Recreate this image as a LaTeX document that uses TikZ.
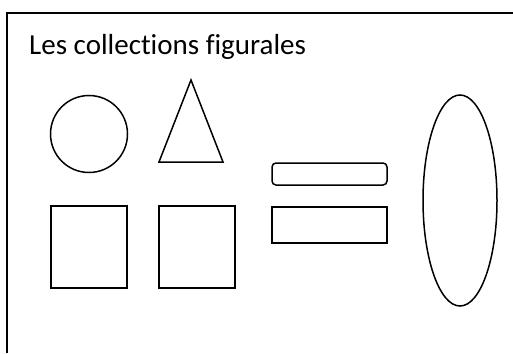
\documentclass[tikz,border=0pt]{standalone}
\usepackage{fontspec}
\setmainfont{Carlito}[Ligatures=NoCommon]
\usetikzlibrary{shapes.geometric}
\tikzset{figure/.style={draw, line width=1.5pt, inner sep=0pt}, frameline/.style={line width=2.2pt}}

\begin{document}
\begin{tikzpicture}[x=1pt, y=-1pt]
	\useasboundingbox (0,0) rectangle (513,353);
	% frame of the slide, only top and left edges shown
	\coordinate (corner) at (7,13);
	\coordinate (right end) at (513,13);
	\coordinate (bottom end) at (7,353);
	\draw[frameline] (right end) -- (corner) -- (bottom end);
	\node[anchor=base west, inner sep=0pt, font=\fontsize{29}{34}\selectfont] (title) at (29,55) {Les collections figurales};
	% the figures
	\node[figure, circle, minimum size=77pt] (rond) at (89,134) {};
	\coordinate (apex) at (191,80);
	\coordinate (base left) at (159,162);
	\coordinate (base right) at (223,162);
	\draw[line width=1.5pt, line join=miter] (apex) -- (base left) -- (base right) -- cycle;
	\node[figure, rectangle, minimum width=76pt, minimum height=82pt] (carre A) at (89,247) {};
	\node[figure, rectangle, minimum width=76pt, minimum height=82pt] (carre B) at (197,247) {};
	\node[figure, rectangle, rounded corners=4pt, minimum width=115pt, minimum height=22pt] (barre) at (329.5,174) {};
	\node[figure, rectangle, minimum width=115pt, minimum height=36pt] (plaque) at (329.5,225) {};
	\node[figure, ellipse, minimum width=74pt, minimum height=211pt] (ovale) at (460,200.5) {};
\end{tikzpicture}
\end{document}
